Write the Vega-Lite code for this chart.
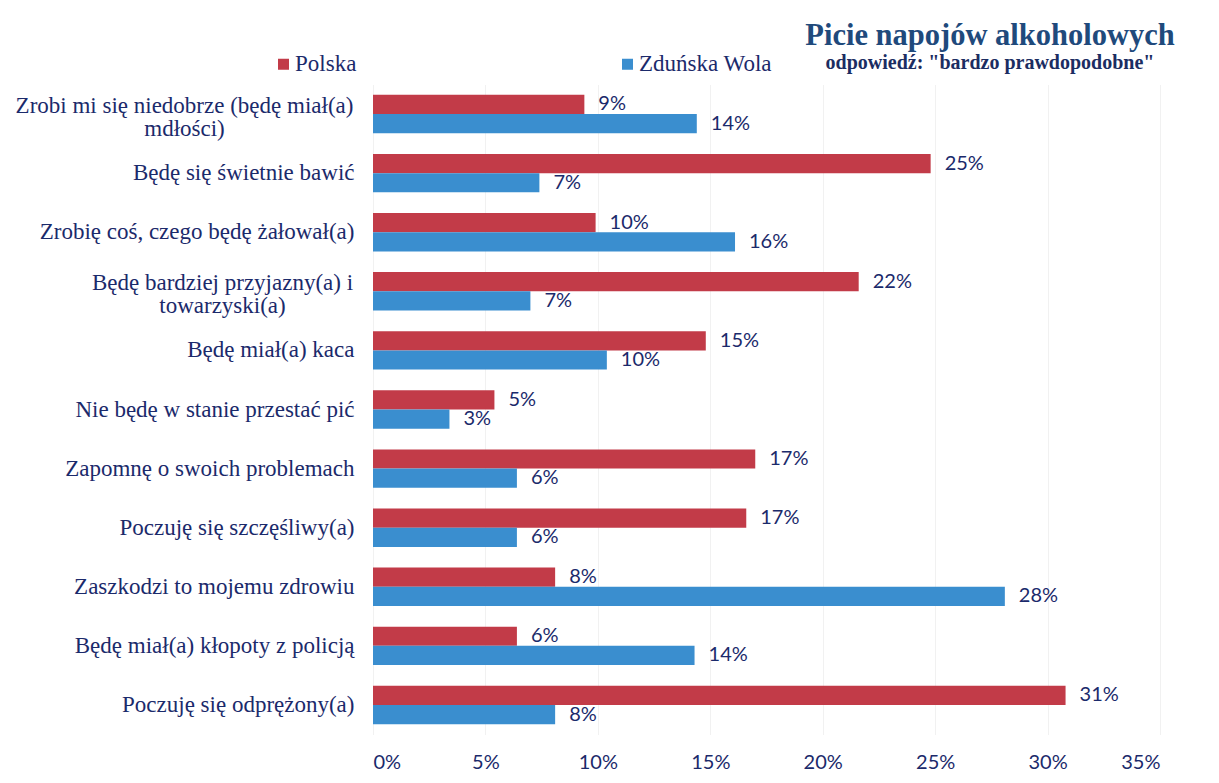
{
  "$schema": "https://vega.github.io/schema/vega-lite/v6.json",
  "width": 787,
  "height": 650,
  "autosize": {"type": "none"},
  "padding": {"left": 373, "top": 84.5, "right": 59, "bottom": 48.5},
  "background": "white",
  "config": {"view": {"stroke": null}},
  "title": {
    "text": "Picie napojów alkoholowych",
    "subtitle": "odpowiedź: \"bardzo prawdopodobne\"",
    "anchor": "end",
    "align": "center",
    "dx": -170,
    "frame": "group",
    "offset": -20,
    "font": "Liberation Serif",
    "fontSize": 30.5,
    "fontWeight": "bold",
    "color": "#1f4a7c",
    "subtitleFont": "Liberation Serif",
    "subtitleFontSize": 20,
    "subtitleFontWeight": "bold",
    "subtitleColor": "#1b2d62",
    "subtitlePadding": 1
  },
  "data": {
    "values": [
      {"cat": "Zrobi mi się niedobrze (będę miał(a)|mdłości)", "series": "Polska", "value": 9.4, "label": "9%"},
      {"cat": "Zrobi mi się niedobrze (będę miał(a)|mdłości)", "series": "Zduńska Wola", "value": 14.4, "label": "14%"},
      {"cat": "Będę się świetnie bawić", "series": "Polska", "value": 24.8, "label": "25%"},
      {"cat": "Będę się świetnie bawić", "series": "Zduńska Wola", "value": 7.4, "label": "7%"},
      {"cat": "Zrobię coś, czego będę żałował(a)", "series": "Polska", "value": 9.9, "label": "10%"},
      {"cat": "Zrobię coś, czego będę żałował(a)", "series": "Zduńska Wola", "value": 16.1, "label": "16%"},
      {"cat": "Będę bardziej przyjazny(a) i|towarzyski(a)", "series": "Polska", "value": 21.6, "label": "22%"},
      {"cat": "Będę bardziej przyjazny(a) i|towarzyski(a)", "series": "Zduńska Wola", "value": 7.0, "label": "7%"},
      {"cat": "Będę miał(a) kaca", "series": "Polska", "value": 14.8, "label": "15%"},
      {"cat": "Będę miał(a) kaca", "series": "Zduńska Wola", "value": 10.4, "label": "10%"},
      {"cat": "Nie będę w stanie przestać pić", "series": "Polska", "value": 5.4, "label": "5%"},
      {"cat": "Nie będę w stanie przestać pić", "series": "Zduńska Wola", "value": 3.4, "label": "3%"},
      {"cat": "Zapomnę o swoich problemach", "series": "Polska", "value": 17.0, "label": "17%"},
      {"cat": "Zapomnę o swoich problemach", "series": "Zduńska Wola", "value": 6.4, "label": "6%"},
      {"cat": "Poczuję się szczęśliwy(a)", "series": "Polska", "value": 16.6, "label": "17%"},
      {"cat": "Poczuję się szczęśliwy(a)", "series": "Zduńska Wola", "value": 6.4, "label": "6%"},
      {"cat": "Zaszkodzi to mojemu zdrowiu", "series": "Polska", "value": 8.1, "label": "8%"},
      {"cat": "Zaszkodzi to mojemu zdrowiu", "series": "Zduńska Wola", "value": 28.1, "label": "28%"},
      {"cat": "Będę miał(a) kłopoty z policją", "series": "Polska", "value": 6.4, "label": "6%"},
      {"cat": "Będę miał(a) kłopoty z policją", "series": "Zduńska Wola", "value": 14.3, "label": "14%"},
      {"cat": "Poczuję się odprężony(a)", "series": "Polska", "value": 30.8, "label": "31%"},
      {"cat": "Poczuję się odprężony(a)", "series": "Zduńska Wola", "value": 8.1, "label": "8%"}
    ]
  },
  "encoding": {
    "y": {
      "field": "cat",
      "type": "nominal",
      "sort": null,
      "scale": {"paddingInner": 0.35, "paddingOuter": 0.175},
      "axis": {
        "title": null,
        "domain": false,
        "ticks": false,
        "grid": false,
        "labelFont": "Liberation Serif",
        "labelFontSize": 23,
        "labelColor": "#1b2a6b",
        "labelLineHeight": 23,
        "labelLimit": 0,
        "labelBaseline": "middle",
        "labelExpr": "split(datum.label, '|')",
        "labelAlign": {
          "condition": {"test": "indexof(datum.value, '|') >= 0", "value": "center"},
          "value": "right"
        },
        "labelOffset": {
          "condition": {"test": "indexof(datum.value, '|') >= 0", "value": -8},
          "value": 0
        },
        "labelPadding": {
          "condition": [
            {"test": "indexof(datum.value, 'Zrobi mi') >= 0", "value": 189},
            {"test": "indexof(datum.value, 'bardziej') >= 0", "value": 151}
          ],
          "value": 19
        }
      }
    },
    "yOffset": {
      "field": "series",
      "type": "nominal",
      "sort": ["Polska", "Zduńska Wola"],
      "scale": {"paddingInner": 0, "paddingOuter": 0}
    },
    "x": {
      "field": "value",
      "type": "quantitative",
      "scale": {"domain": [0, 35], "nice": false},
      "axis": {
        "title": null,
        "values": [0, 5, 10, 15, 20, 25, 30, 35],
        "labelExpr": "datum.value + '%'",
        "domain": false,
        "ticks": false,
        "grid": true,
        "gridColor": "#f1f1f1",
        "gridWidth": 1,
        "labelFont": "Lato",
        "labelFontSize": 20,
        "labelColor": "#1b2a6b",
        "labelPadding": 18
      }
    }
  },
  "layer": [
    {
      "mark": {"type": "bar"},
      "encoding": {
        "color": {
          "field": "series",
          "type": "nominal",
          "scale": {"domain": ["Polska", "Zduńska Wola"], "range": ["#c23b48", "#3a8ecf"]},
          "legend": {
            "orient": "none",
            "legendX": -101,
            "legendY": -32,
            "direction": "horizontal",
            "title": null,
            "padding": 0,
            "symbolType": "square",
            "symbolSize": 121,
            "symbolStrokeWidth": 0,
            "labelFont": "Liberation Serif",
            "labelFontSize": 23,
            "labelColor": "#1b2a6b",
            "labelOffset": 0,
            "columnPadding": 259,
            "labelLimit": 0
          }
        }
      }
    },
    {
      "mark": {"type": "text", "align": "left", "baseline": "middle", "dx": 14, "font": "Lato", "fontSize": 20, "color": "#1b2a6b"},
      "encoding": {"text": {"field": "label"}}
    }
  ]
}
